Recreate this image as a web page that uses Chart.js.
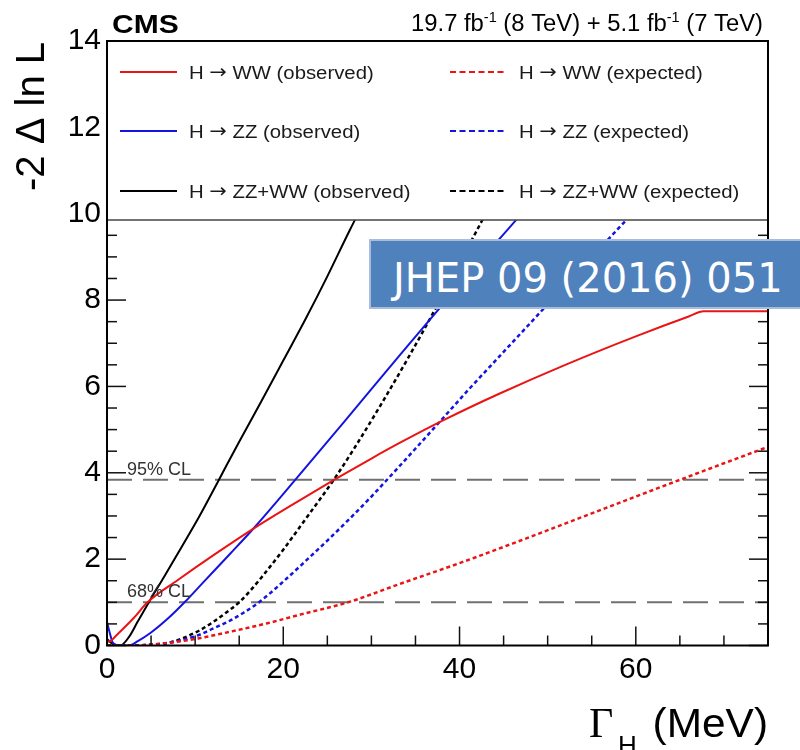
<!DOCTYPE html>
<html>
<head>
<meta charset="utf-8">
<script src="https://cdn.jsdelivr.net/npm/chart.js@4.4.1/dist/chart.umd.min.js"></script>
<style>
  html, body { margin: 0; padding: 0; background: #fff; }
  #wrap { position: relative; width: 800px; height: 750px; overflow: hidden; }
  #jhep {
    position: absolute; left: 369px; top: 239px; width: 460px; height: 70px;
    box-sizing: border-box; background: #4f81bd; border: 2px solid #a9bddb;
    color: #fff; font-family: "DejaVu Sans"; font-size: 40px;
    padding: 8px 0 0 22px; line-height: 58px; white-space: nowrap;
  }
</style>
</head>
<body>
<div id="wrap">
  <canvas id="myChart" width="800" height="750"></canvas>
  <div id="jhep">JHEP 09 (2016) 051</div>
</div>
<script>
// Akser
const xTicks = [0, 20, 40, 60];
const yTicks = [0, 2, 4, 6, 8, 10, 12, 14];

// H -> WW
const wwObsX = [0, 0.5, 1, 3, 4.6, 8, 12, 16.8, 22, 25.8, 30, 33.2, 38.3, 44.5, 52, 60, 66, 67.7, 75];
const wwObsY = [0.08, 0.12, 0.22, 0.63, 1.0, 1.51, 2.08, 2.73, 3.38, 3.84, 4.33, 4.69, 5.23, 5.83, 6.5, 7.16, 7.62, 7.74, 7.74];
const wwExpX = [0, 3, 5, 7, 10.5, 14, 18.1, 22, 27.5, 33, 40.3, 46, 51.3, 55, 60, 65.3, 70, 75];
const wwExpY = [0, 0, 0.02, 0.06, 0.17, 0.32, 0.51, 0.72, 1.01, 1.41, 1.93, 2.36, 2.77, 3.06, 3.45, 3.86, 4.22, 4.6];

// H -> ZZ
const zzObsX = [0, 0.3, 0.7, 1.5, 2.5, 3.5, 5, 7, 8.8, 11, 14, 16.8, 21.5, 27, 33.2, 37.7, 41, 46.6, 52];
const zzObsY = [0.55, 0.3, 0.05, 0, 0, 0.1, 0.3, 0.64, 1.0, 1.48, 2.13, 2.75, 3.87, 5.2, 6.72, 7.8, 8.6, 9.9, 11.2];
const zzExpX = [0, 3, 5, 6.8, 8.5, 10.5, 12, 14, 15.5, 17.3, 20, 22.5, 25, 27.5, 30, 32.5, 35, 37.7, 41, 45, 49.4, 53, 57.3, 59, 62];
const zzExpY = [0, 0, 0.02, 0.06, 0.13, 0.25, 0.39, 0.58, 0.76, 1.01, 1.48, 1.95, 2.43, 2.93, 3.45, 4.0, 4.56, 5.17, 5.92, 6.8, 7.77, 8.57, 9.5, 9.87, 10.5];

// H -> ZZ+WW
const combObsX = [0, 0.7, 1.5, 2.5, 3.5, 4.8, 6.5, 8.6, 10.5, 12.6, 15, 17.5, 20, 22.5, 25, 27.5, 30];
const combObsY = [0.15, 0.03, 0, 0.2, 0.56, 1.02, 1.6, 2.33, 3.0, 3.8, 4.72, 5.65, 6.6, 7.55, 8.55, 9.6, 10.6];
const combExpX = [0, 3, 5, 6.8, 8.5, 10.5, 12, 13.5, 15.1, 16.3, 17.5, 20, 22.5, 25.8, 28, 31, 34, 36.6, 40, 42.6, 45];
const combExpY = [0, 0, 0.02, 0.05, 0.16, 0.35, 0.54, 0.76, 1.02, 1.28, 1.57, 2.22, 2.92, 3.86, 4.55, 5.55, 6.6, 7.55, 8.85, 9.86, 10.8];

// CL-linjer
const clLevels = [3.84, 1.0];
const clLabels = ['95% CL', '68% CL'];
const xRange = [0, 75];

const RED = 'rgb(235,20,20)';
const BLUE = 'rgb(20,20,225)';
const BLACK = 'rgb(0,0,0)';
const DOT = [4, 3];

function pts(xs, ys) {
  return xs.map((v, i) => ({ x: v, y: ys[i] }));
}

function curve(label, xs, ys, color, dashed) {
  return {
    label: label,
    data: pts(xs, ys),
    borderColor: color,
    borderWidth: dashed ? 2.5 : 2,
    borderDash: dashed ? DOT : [],
    pointRadius: 0,
    cubicInterpolationMode: 'monotone',
    fill: false,
    order: 1
  };
}

const datasets = [
  curve('H \u2192 WW (observed)', wwObsX, wwObsY, RED, false),
  curve('H \u2192 WW (expected)', wwExpX, wwExpY, RED, true),
  curve('H \u2192 ZZ (observed)', zzObsX, zzObsY, BLUE, false),
  curve('H \u2192 ZZ (expected)', zzExpX, zzExpY, BLUE, true),
  curve('H \u2192 ZZ+WW (observed)', combObsX, combObsY, BLACK, false),
  curve('H \u2192 ZZ+WW (expected)', combExpX, combExpY, BLACK, true)
];
clLevels.forEach((lvl, i) => {
  datasets.push({
    label: clLabels[i],
    data: xRange.map(v => ({ x: v, y: lvl })),
    borderColor: '#707070',
    borderWidth: 2,
    borderDash: [25, 11],
    pointRadius: 0,
    order: 5,
    isCL: true
  });
});

// tekst med horisontal strekk
function txt(ctx, s, x, y, font, align, sx, color) {
  ctx.save();
  ctx.font = font;
  ctx.fillStyle = color || '#000';
  ctx.textBaseline = 'alphabetic';
  const w = ctx.measureText(s).width * sx;
  let x0 = x;
  if (align === 'right') x0 = x - w;
  if (align === 'center') x0 = x - w / 2;
  ctx.translate(x0, y);
  ctx.scale(sx, 1);
  ctx.fillText(s, 0, 0);
  ctx.restore();
  return w;
}

function seg(ctx, x1, y1, x2, y2) {
  ctx.beginPath();
  ctx.moveTo(x1, y1);
  ctx.lineTo(x2, y2);
  ctx.stroke();
}

const decor = {
  id: 'decor',
  afterDatasetsDraw(chart) {
    const { ctx, chartArea: a, scales: { x, y } } = chart;
    ctx.save();

    // CL-tekster
    clLevels.forEach((lvl, i) => {
      txt(ctx, clLabels[i], a.left + 20, y.getPixelForValue(lvl) - 5, '18px "Liberation Sans"', 'left', 1, '#333');
    });

    // ticks innover
    ctx.strokeStyle = '#111';
    ctx.lineWidth = 1.5;
    for (let v = xRange[0]; v <= xRange[1]; v += 5) {
      const px = x.getPixelForValue(v);
      const len = v % 20 === 0 ? 19 : 10;
      seg(ctx, px, a.bottom, px, a.bottom - len);
      seg(ctx, px, a.top, px, a.top + len);
    }
    for (let v = 0; v <= 14; v += 0.5) {
      const py = y.getPixelForValue(v);
      const len = v % 2 === 0 ? 19 : 10;
      seg(ctx, a.left, py, a.left + len, py);
      seg(ctx, a.right, py, a.right - len, py);
    }

    // legendeboks
    const lb = a.top + 179;
    ctx.fillStyle = '#fff';
    ctx.fillRect(a.left, a.top, a.width, lb - a.top);
    ctx.strokeStyle = '#444';
    ctx.lineWidth = 1.5;
    seg(ctx, a.left, lb, a.right, lb);

    const rows = [a.top + 31, a.top + 90, a.top + 150];
    const cols = [a.left + 13, a.left + 343];
    const lf = '18px "Liberation Sans"';
    chart.data.datasets.filter(d => !d.isCL).forEach((d, i) => {
      const cx = cols[i % 2];
      const cy = rows[Math.floor(i / 2)];
      ctx.save();
      ctx.strokeStyle = d.borderColor;
      ctx.lineWidth = 2;
      ctx.setLineDash(d.borderDash.length ? [6, 3.5] : []);
      seg(ctx, cx, cy, cx + 57, cy);
      ctx.restore();
      const p = d.label.split('\u2192');
      let tx = cx + 69;
      tx += txt(ctx, p[0], tx, cy + 7, lf, 'left', 1.13, '#1a1a1a');
      tx += txt(ctx, '\u2192', tx, cy + 6, '19px "DejaVu Sans"', 'left', 1.1, '#1a1a1a');
      txt(ctx, p[1], tx, cy + 7, lf, 'left', 1.13, '#1a1a1a');
    });

    // ramme
    ctx.strokeStyle = '#000';
    ctx.lineWidth = 2;
    ctx.strokeRect(a.left, a.top, a.width, a.height);
    ctx.restore();
  },
  afterDraw(chart) {
    const { ctx, chartArea: a } = chart;
    ctx.save();
    // CMS og luminositet
    txt(ctx, 'CMS', a.left + 5, 33, 'bold 25px "Liberation Sans"', 'left', 1.2);
    const f = '23px "Liberation Sans"';
    const fs = '14px "Liberation Sans"';
    const sx = 1.035;
    const parts = [['19.7 fb', f, 0], ['-1', fs, -9], [' (8 TeV) + 5.1 fb', f, 0], ['-1', fs, -9], [' (7 TeV)', f, 0]];
    let tot = 0;
    parts.forEach(p => { ctx.font = p[1]; tot += ctx.measureText(p[0]).width * sx; });
    let cx = a.right - 5 - tot;
    parts.forEach(p => { cx += txt(ctx, p[0], cx, 31 + p[2], p[1], 'left', sx); });

    // y-tittel
    ctx.save();
    ctx.translate(44, a.top + 1);
    ctx.rotate(-Math.PI / 2);
    ctx.font = '40px "Liberation Sans"';
    ctx.textAlign = 'right';
    ctx.fillStyle = '#000';
    ctx.fillText('-2 \u0394 ln L', 0, 0);
    ctx.restore();

    // x-tittel
    txt(ctx, '(MeV)', a.right, 737, '40px "Liberation Sans"', 'right', 1.06);
    txt(ctx, '\u0393', 589, 737, '42px "Liberation Serif"', 'left', 1);
    txt(ctx, 'H', 618, 754, '26px "Liberation Sans"', 'left', 1);
    ctx.restore();
  }
};

const ctx = document.getElementById('myChart').getContext('2d');
new Chart(ctx, {
  type: 'line',
  data: { datasets: datasets },
  options: {
    responsive: false,
    animation: false,
    layout: { padding: { left: 0, right: 32, top: 41, bottom: 0 } },
    plugins: { legend: { display: false }, tooltip: { enabled: false } },
    scales: {
      x: {
        type: 'linear',
        min: xRange[0],
        max: xRange[1],
        grid: { display: false, drawTicks: false },
        border: { display: false },
        ticks: { font: { family: 'Liberation Sans', size: 30 }, color: '#000', padding: 6, maxRotation: 0 },
        afterBuildTicks: s => { s.ticks = xTicks.map(v => ({ value: v })); },
        afterFit: s => { s.height = 104.5; }
      },
      y: {
        type: 'linear',
        min: 0,
        max: 14,
        grid: { display: false, drawTicks: false },
        border: { display: false },
        ticks: { font: { family: 'Liberation Sans', size: 30 }, color: '#000', padding: 6 },
        afterBuildTicks: s => { s.ticks = yTicks.map(v => ({ value: v })); },
        afterFit: s => { s.width = 107; }
      }
    }
  },
  plugins: [decor]
});
</script>
</body>
</html>
